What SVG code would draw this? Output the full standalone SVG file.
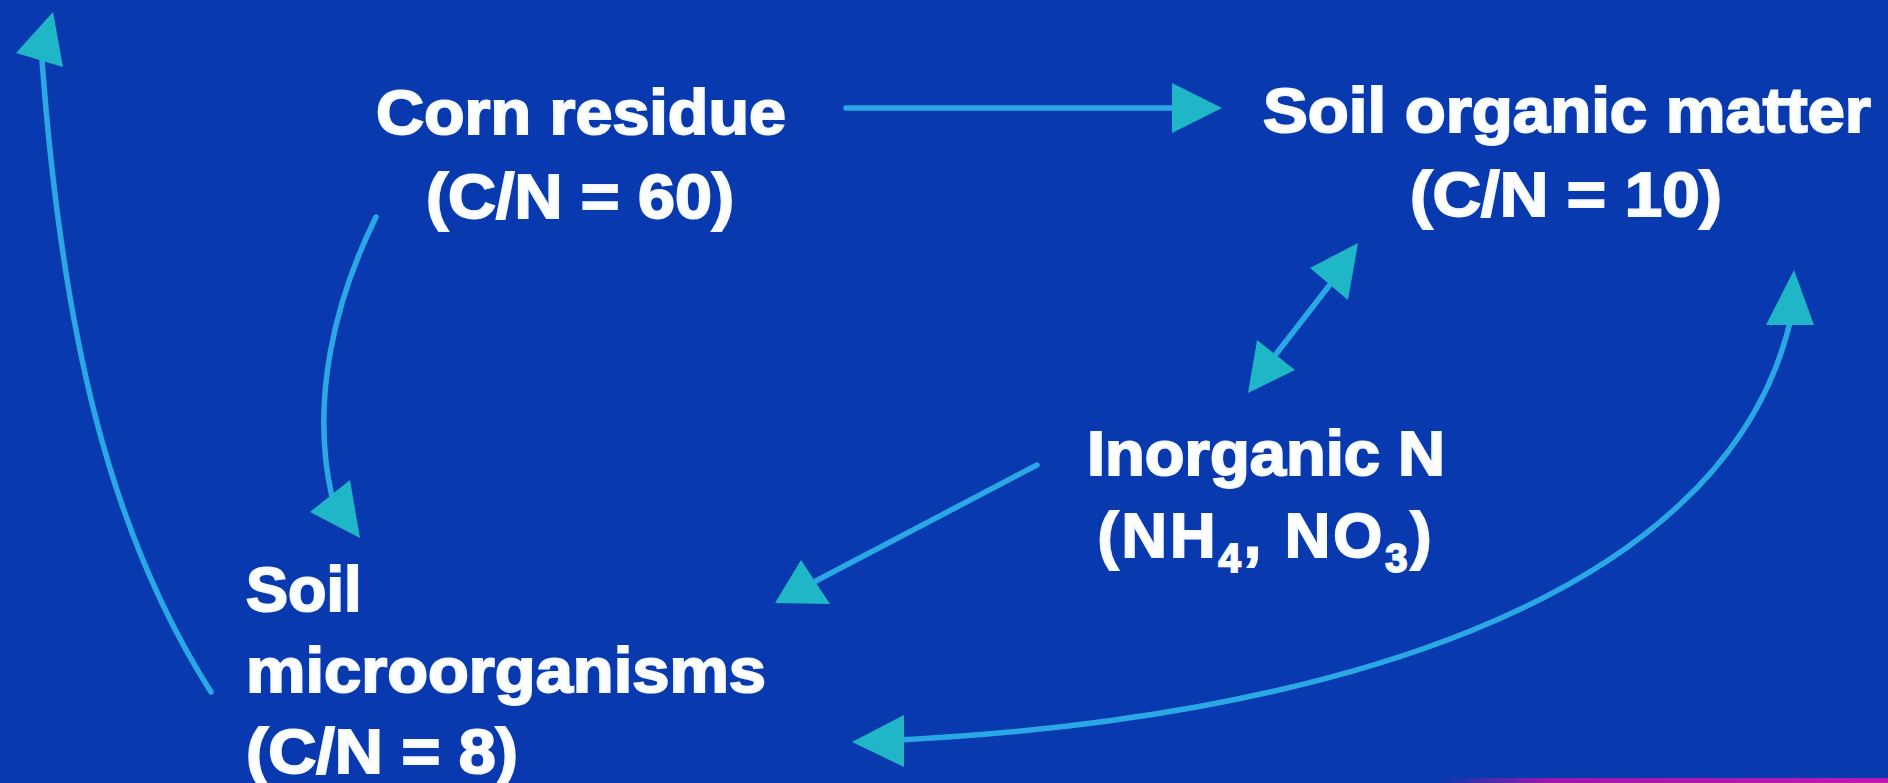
<svg xmlns="http://www.w3.org/2000/svg" width="1888" height="783" viewBox="0 0 1888 783">
  <defs>
    <linearGradient id="strip" x1="0" y1="0" x2="1" y2="0">
      <stop offset="0" stop-color="#b014a8" stop-opacity="0"/>
      <stop offset="0.25" stop-color="#b014a8" stop-opacity="0.9"/>
      <stop offset="1" stop-color="#c018b0"/>
    </linearGradient>
    <style>
      .lbl { font-family: "Liberation Sans", Arial, sans-serif; font-weight: bold; font-size: 63px; fill: #ffffff; stroke: #f4f8ff; stroke-width: 2px; }
      .mid { text-anchor: middle; }
      .ln { fill: none; stroke: #2aa8e6; stroke-width: 5.5; stroke-linecap: round; }
      .head { fill: #1fb6c8; }
    </style>
  </defs>
  <rect x="0" y="0" width="1888" height="783" fill="#0839ae"/>
  <rect x="1440" y="778" width="448" height="5" fill="url(#strip)"/>

  <g id="connectors">
    <!-- Corn residue -> Soil organic matter -->
    <path class="ln" d="M846,108 L1178,108"/>
    <polygon class="head" points="1222,108 1172,83 1172,133"/>
    <!-- Soil microorganisms -> up (left edge) -->
    <path class="ln" d="M211,692 C108,530 62,330 42,60"/>
    <polygon class="head" points="53,12 16,53 63,67"/>
    <!-- Corn residue -> Soil microorganisms -->
    <path class="ln" d="M376,217 C335,300 310,400 332,497"/>
    <polygon class="head" points="360,538 310,512 350,480"/>
    <!-- Inorganic N -> Soil microorganisms -->
    <path class="ln" d="M1037,465 L812,583"/>
    <polygon class="head" points="775,603 801,560 830,604"/>
    <!-- Soil organic matter <-> Inorganic N -->
    <path class="ln" d="M1332,282 L1273,358"/>
    <polygon class="head" points="1358,243 1310,268 1348,300"/>
    <polygon class="head" points="1248,393 1257,340 1295,370"/>
    <!-- Soil microorganisms <-> Soil organic matter (bottom curve) -->
    <path class="ln" d="M898,740 C1300,720 1725,610 1791,318"/>
    <polygon class="head" points="852,742 904,715 904,767"/>
    <polygon class="head" points="1794,270 1766,325 1814,325"/>
  </g>

  <g id="corn-residue">
    <text class="lbl mid" x="581" y="134" textLength="410" lengthAdjust="spacingAndGlyphs">Corn residue</text>
    <text class="lbl mid" x="580" y="218" textLength="308" lengthAdjust="spacingAndGlyphs">(C/N = 60)</text>
  </g>

  <g id="soil-organic-matter">
    <text class="lbl mid" x="1567" y="132" textLength="608" lengthAdjust="spacingAndGlyphs">Soil organic matter</text>
    <text class="lbl mid" x="1566" y="216" textLength="312" lengthAdjust="spacingAndGlyphs">(C/N = 10)</text>
  </g>

  <g id="inorganic-n">
    <text class="lbl mid" x="1266" y="475" textLength="358" lengthAdjust="spacingAndGlyphs">Inorganic N</text>
    <text class="lbl mid" x="1266" y="557" letter-spacing="3">(NH<tspan font-size="40" dy="15">4</tspan><tspan dy="-15">, NO</tspan><tspan font-size="40" dy="15">3</tspan><tspan dy="-15">)</tspan></text>
  </g>

  <g id="soil-microorganisms">
    <text class="lbl" x="246" y="611">Soil</text>
    <text class="lbl" x="246" y="692" textLength="520" lengthAdjust="spacingAndGlyphs">microorganisms</text>
    <text class="lbl" x="246" y="773" textLength="272" lengthAdjust="spacingAndGlyphs">(C/N = 8)</text>
  </g>
</svg>
